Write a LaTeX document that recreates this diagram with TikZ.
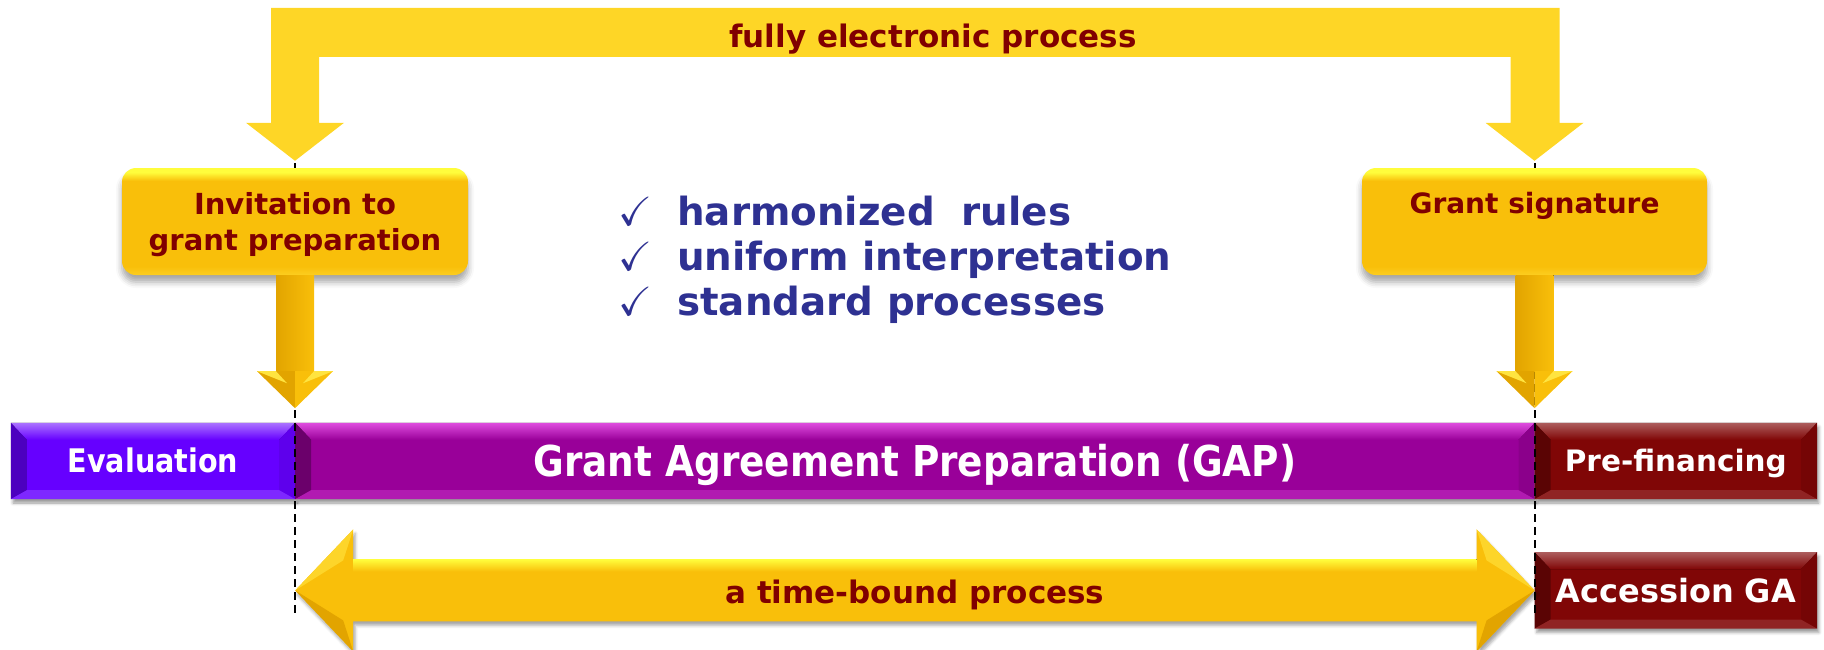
\documentclass[tikz,border=0pt]{standalone}
\usepackage{amssymb}
\usepackage{fontspec}
\setmainfont{DejaVu Sans}
\newfontfamily\narrowsf[FakeStretch=0.88]{DejaVu Sans}
\usepackage{tikz}
\usetikzlibrary{positioning, calc, shadows.blur}

\definecolor{bandgold}{RGB}{254,214,38}
\definecolor{goldbody}{RGB}{249,191,10}
\definecolor{goldhigh}{RGB}{255,253,60}
\definecolor{goldlow}{RGB}{252,206,32}
\definecolor{goldside}{RGB}{226,164,0}
\definecolor{goldwing}{RGB}{255,228,64}
\definecolor{titlered}{RGB}{128,0,0}
\definecolor{listblue}{RGB}{46,49,146}
\definecolor{evalviolet}{RGB}{102,0,255}
\definecolor{gappurple}{RGB}{153,0,153}
\definecolor{payred}{RGB}{128,6,6}

% gold face of the cards: bright rim on top, lighter rim at the bottom
\pgfdeclareverticalshading{goldface}{100bp}{color(0bp)=(goldlow); color(25bp)=(goldlow);
  color(29bp)=(goldbody); color(69bp)=(goldbody); color(73bp)=(goldhigh); color(100bp)=(goldhigh)}

\tikzset{
x=1pt, y=-1pt, % one unit is one pixel, y grows downwards
card/.style={rectangle, rounded corners=14pt, shade, shading=goldface, minimum width=346pt,
  minimum height=107pt, inner sep=0pt, align=center, text=titlered,
  blur shadow={shadow xshift=0pt, shadow yshift=-7pt, shadow blur radius=6pt, shadow opacity=35}},
phase/.style={rectangle, fill=#1, minimum height=76pt, inner sep=0pt, text=white, text depth=0pt,
  blur shadow={shadow xshift=2pt, shadow yshift=-4pt, shadow blur radius=3pt, shadow opacity=40}},
guide/.style={line width=2pt, dash pattern=on 8pt off 5pt}, % the two dashed milestones
check/.style={anchor=base west, inner sep=0pt, text=listblue,
  font=\bfseries\fontsize{38.8}{46}\selectfont},
}

% bevelled rim around a bar segment: node, light, dark, body
\newcommand{\bevel}[4]{%
  \fill[top color=#2, bottom color=#4] (#1.north west) -- (#1.north east)
    -- ([shift={(-16,17)}]#1.north east) -- ([shift={(16,17)}]#1.north west) -- cycle;
  \fill[#3] (#1.north west) -- ([shift={(16,17)}]#1.north west)
    -- ([shift={(16,-9)}]#1.south west) -- (#1.south west) -- cycle;
  \fill[#3!30!#4] (#1.north east) -- ([shift={(-16,17)}]#1.north east)
    -- ([shift={(-16,-9)}]#1.south east) -- (#1.south east) -- cycle;
  \fill[#2!35!#4] (#1.south west) -- ([shift={(16,-9)}]#1.south west)
    -- ([shift={(-16,-9)}]#1.south east) -- (#1.south east) -- cycle;
}

% fat arrow hanging below a card
\newcommand{\droparrow}[1]{%
  \fill[left color=goldside, right color=goldbody] ([xshift=-19pt]#1.south) rectangle ([shift={(19,96)}]#1.south);
  \fill[goldside] ([shift={(-38,96)}]#1.south) -- ([shift={(0,96)}]#1.south) -- ([shift={(0,133)}]#1.south) -- cycle;
  \fill[goldbody] ([shift={(38,96)}]#1.south) -- ([shift={(0,96)}]#1.south) -- ([shift={(0,133)}]#1.south) -- cycle;
  \fill[goldwing] ([shift={(-38,96)}]#1.south) -- ([shift={(-19,96)}]#1.south) -- ([shift={(-8,108)}]#1.south) -- cycle;
  \fill[goldwing] ([shift={(38,96)}]#1.south) -- ([shift={(19,96)}]#1.south) -- ([shift={(8,108)}]#1.south) -- cycle;
}

% tick in front of a list line
\newcommand{\tick}{\makebox[59pt][l]{\scalebox{1.05}{$\checkmark$}}}

\begin{document}
\begin{tikzpicture}
\useasboundingbox (0,0) rectangle (1824,649);

% the process bar
\node[phase=evalviolet, minimum width=284pt, text height=23.5pt,
  font=\narrowsf\bfseries\fontsize{32.5}{33}\selectfont] (eva) at (153,461) {Evaluation};
\node[phase=gappurple, minimum width=1239pt, right=0pt of eva, text height=31pt,
  font=\narrowsf\bfseries\fontsize{42.5}{43}\selectfont] (gap) {Grant Agreement Preparation (GAP)};
\node[phase=payred, minimum width=282pt, right=0pt of gap, text height=21.5pt,
  font=\bfseries\fontsize{29.5}{30}\selectfont] (pre) {Pre-financing};
\node[phase=payred, minimum width=282pt, below=53pt of pre, text height=23.4pt,
  font=\bfseries\fontsize{32}{32}\selectfont] (acc) {Accession GA};
\bevel{eva}{evalviolet!55!white}{evalviolet!75!black}{evalviolet}
\bevel{gap}{gappurple!45!magenta!70!white}{gappurple!70!black}{gappurple}
\bevel{pre}{payred!65!white}{payred!70!black}{payred}
\bevel{acc}{payred!65!white}{payred!70!black}{payred}

% time-bound double arrow
\coordinate (spanL) at (eva.east |- acc.west);
\coordinate (spanR) at (acc.west);
\fill[goldbody, blur shadow={shadow xshift=2pt, shadow yshift=-4pt, shadow blur radius=3pt, shadow opacity=35}]
  (spanL) -- ++(58,-61) -- ++(0,30) -- ($(spanR)+(-58,-31)$) -- ++(0,-30) -- (spanR)
  -- ++(-58,61) -- ++(0,-30) -- ($(spanL)+(58,31)$) -- ++(0,30) -- cycle;
\fill[top color=goldhigh, bottom color=goldbody] ($(spanL)+(58,-31)$) rectangle ($(spanR)+(-58,-19)$);
\fill[goldwing!60!goldbody] (spanL) -- ++(58,-61) -- ++(-10,31) -- cycle;
\fill[goldside] (spanL) -- ++(58,61) -- ++(-10,-31) -- cycle;
\fill[goldwing!60!goldbody] (spanR) -- ++(-58,-61) -- ++(10,31) -- cycle;
\fill[goldside] (spanR) -- ++(-58,61) -- ++(10,-31) -- cycle;
\node[anchor=base, text=titlered, font=\bfseries\fontsize{31}{31}\selectfont] (span)
  at ($(spanL)!0.5!(spanR)+(0,13)$) {a time-bound process};

% milestones
\draw[guide] (eva.east |- 0,163) -- (eva.east |- 0,613);
\draw[guide] (gap.east |- 0,163) -- (gap.east |- 0,613);

% cards
\node[card, text depth=0pt, font=\bfseries\fontsize{29}{36}\selectfont] (inv) at (295,221.5)
  {Invitation to\\grant preparation};
\node[card, minimum width=345pt, text height=21pt, text depth=38pt,
  font=\bfseries\fontsize{28}{32}\selectfont] (sig) at (1534.5,221.5) {Grant signature};
\droparrow{inv}
\droparrow{sig}

% electronic loop from card to card
\coordinate (dropL) at ([yshift=7pt]inv.north);
\coordinate (dropR) at ([yshift=7pt]sig.north);
\fill[bandgold] (dropL) -- ++(-49,-38) -- ++(25,0) -- ++(0,-115) -- ($(dropR)+(25,-153)$)
  -- ++(0,115) -- ++(24,0) -- (dropR) -- ++(-49,-38) -- ++(25,0) -- ++(0,-66)
  -- ($(dropL)+(24,-104)$) -- ++(0,66) -- ++(25,0) -- cycle;
\node[anchor=base, text=titlered, font=\bfseries\fontsize{31}{31}\selectfont] (band)
  at (933,47) {fully electronic process};

% check list
\node[check] (chk1) at (618,225) {\tick harmonized\ \ rules};
\node[check] (chk2) at (618,270) {\tick uniform interpretation};
\node[check] (chk3) at (618,315) {\tick standard processes};
\end{tikzpicture}
\end{document}
